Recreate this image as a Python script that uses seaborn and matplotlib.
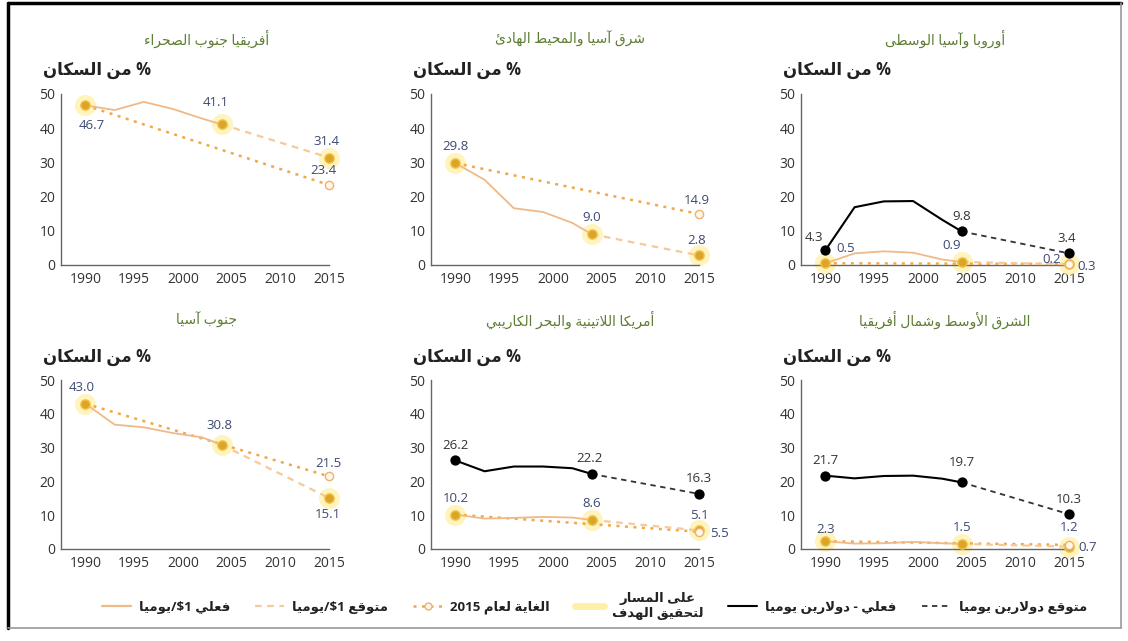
import re
import matplotlib
matplotlib.use('Agg')
import matplotlib.pyplot as plt
from matplotlib.lines import Line2D
import seaborn as sns

# ---------------------------------------------------------------
# data (percent of population)
# ---------------------------------------------------------------
years_actual = [1990, 1993, 1996, 1999, 2002, 2004]
year_goal = 2015

regions = ['أفريقيا جنوب الصحراء', 'شرق آسيا والمحيط الهادئ', 'أوروبا وآسيا الوسطى',
           'جنوب آسيا', 'أمريكا اللاتينية والبحر الكاريبي', 'الشرق الأوسط وشمال أفريقيا']

# $1 a day - actual
ssa_usd1 = [46.7, 45.3, 47.7, 45.6, 42.8, 41.1]
eap_usd1 = [29.8, 24.9, 16.6, 15.5, 12.3, 9.0]
eca_usd1 = [0.5, 3.4, 4.0, 3.6, 1.6, 0.9]
sas_usd1 = [43.0, 36.8, 36.0, 34.3, 33.0, 30.8]
lac_usd1 = [10.2, 9.0, 9.2, 9.5, 9.3, 8.6]
mena_usd1 = [2.3, 1.6, 1.7, 2.1, 1.7, 1.5]

# $2 a day - actual (only shown for three regions)
eca_usd2 = [4.3, 16.9, 18.6, 18.7, 13.2, 9.8]
lac_usd2 = [26.2, 23.0, 24.4, 24.4, 23.9, 22.2]
mena_usd2 = [21.7, 20.9, 21.6, 21.7, 20.8, 19.7]

# 2015 values
proj_usd1_2015 = [31.4, 2.8, 0.2, 15.1, 5.5, 0.7]
target_usd1_2015 = [23.4, 14.9, 0.3, 21.5, 5.1, 1.2]
proj_usd2_2015 = [None, None, 3.4, None, 16.3, 10.3]

x_ticks = [1990, 1995, 2000, 2005, 2010, 2015]
y_ticks = [0, 10, 20, 30, 40, 50]
y_label = '% من السكان'

legend_labels = ['فعلي $1/يوميا', 'متوقع $1/يوميا', 'الغاية لعام 2015',
                 'على المسار\nلتحقيق الهدف', 'فعلي - دولارين يوميا', 'متوقع دولارين يوميا']

usd1_series = [ssa_usd1, eap_usd1, eca_usd1, sas_usd1, lac_usd1, mena_usd1]
usd2_series = [None, None, eca_usd2, None, lac_usd2, mena_usd2]

# label offsets in pixels (dx, dy up) : a1_0 = 1990, a1_1 = 2004, p1/t1/p2 = 2015
label_offsets = [
    {'a1_0': (6, -20), 'a1_1': (-6, 22), 'p1': (-3, 16), 't1': (-6, 14)},
    {'a1_0': (0, 17), 'a1_1': (0, 17), 'p1': (-2, 15), 't1': (-2, 14)},
    {'a2_0': (-11, 13), 'a1_0': (20, 15), 'a2_1': (0, 15), 'a1_1': (-10, 16),
     'p2': (-2, 15), 'p1': (-17, 5), 't1': (18, -3)},
    {'a1_0': (-4, 16), 'a1_1': (-2, 19), 't1': (-1, 13), 'p1': (-1, -17)},
    {'a2_0': (0, 15), 'a2_1': (-2, 15), 'p2': (0, 15), 'a1_0': (0, 16), 'a1_1': (0, 16),
     't1': (0, 16), 'p1': (20, -3)},
    {'a2_0': (0, 15), 'a2_1': (0, 20), 'p2': (0, 15), 'a1_0': (0, 12), 'a1_1': (0, 16),
     't1': (0, 17), 'p1': (19, -1)},
]

# ---------------------------------------------------------------
# minimal arabic shaping (matplotlib has no bidi / joining)
# ---------------------------------------------------------------
_codes = list(range(0x621, 0x63B)) + list(range(0x641, 0x64B))
_nforms = [1, 2, 2, 2, 2, 4, 2, 4, 2, 4, 4, 4, 4, 4, 2, 2, 2, 2, 4, 4, 4, 4, 4, 4,
           4, 4, 4, 4, 4, 4, 4, 4, 4, 2, 2, 4]
FORMS = {}
_base = 0xFE80
for _c, _n in zip(_codes, _nforms):
    FORMS[chr(_c)] = (_base, _n)
    _base += _n
LAM_ALEF = {'\u0622': 0xFEF5, '\u0623': 0xFEF7, '\u0625': 0xFEF9, '\u0627': 0xFEFB}


def shape_line(text):
    units = []
    i = 0
    while i < len(text):
        c = text[i]
        if c == '\u0644' and i + 1 < len(text) and text[i + 1] in LAM_ALEF:
            units.append((True, LAM_ALEF[text[i + 1]], 2))
            i += 2
            continue
        if c in FORMS:
            units.append((True,) + FORMS[c])
        else:
            units.append((False, c, 0))
        i += 1
    out = []
    for k, (is_ar, b, n) in enumerate(units):
        if not is_ar:
            out.append(b)
            continue
        prev_j = k > 0 and units[k - 1][0] and units[k - 1][2] == 4 and n > 1
        next_j = n == 4 and k + 1 < len(units) and units[k + 1][0] and units[k + 1][2] > 1
        if n == 4:
            idx = 3 if (prev_j and next_j) else 1 if prev_j else 2 if next_j else 0
        elif n == 2:
            idx = 1 if prev_j else 0
        else:
            idx = 0
        out.append(chr(b + idx))
    s = ''.join(out)
    tokens = re.findall(r'[0-9A-Za-z$.]+|.', s)
    return ''.join(tokens[::-1])


def ar(text):
    return '\n'.join(shape_line(t) for t in text.split('\n'))


# ---------------------------------------------------------------
# style
# ---------------------------------------------------------------
sns.set_theme(style='white')
plt.rcParams['font.family'] = ['Open Sans', 'DejaVu Sans']

c_actual1 = '#f0b987'
c_proj1 = '#f5c99a'
c_target = '#f0a84a'
c_marker = '#dba628'
c_halo = '#fff0a8'
c_lab1 = '#3d4a70'
c_lab2 = '#333333'
c_title = '#5d7d32'
c_axis = '#666666'

W, H = 1128, 641
fig = plt.figure(figsize=(W / 100, H / 100), dpi=100)

col_left = [61, 431, 801]
col_title = [207, 570, 945]
row_zero = [265, 549]
row_fifty = [94, 380]
row_title = [40, 321]
row_ylabel = [70, 357]
ax_w = 268


def gold_point(ax, x, y):
    sns.scatterplot(x=[x], y=[y], ax=ax, s=230, color=c_halo, alpha=0.75,
                    linewidth=0, zorder=2, clip_on=False)
    sns.scatterplot(x=[x], y=[y], ax=ax, s=45, color=c_marker, edgecolor='#f2c24a',
                    linewidth=1, zorder=5, clip_on=False)


for p in range(6):
    r, c = divmod(p, 3)
    left = col_left[c] / W
    bottom = 1 - row_zero[r] / H
    height = (row_zero[r] - row_fifty[r]) / H
    ax = fig.add_axes([left, bottom, ax_w / W, height])
    offs = label_offsets[p]

    usd1 = usd1_series[p]
    usd2 = usd2_series[p]
    last = years_actual[-1]

    # target line and projected lines
    sns.lineplot(x=[years_actual[0], year_goal], y=[usd1[0], target_usd1_2015[p]], ax=ax,
                 color=c_target, linewidth=1.8, linestyle=(0, (1.2, 2.2)), zorder=3)
    sns.lineplot(x=[last, year_goal], y=[usd1[-1], proj_usd1_2015[p]], ax=ax,
                 color=c_proj1, linewidth=1.6, linestyle=(0, (3, 2.5)), zorder=3)
    sns.lineplot(x=years_actual, y=usd1, ax=ax, color=c_actual1, linewidth=1.3, zorder=3)

    if usd2 is not None:
        sns.lineplot(x=years_actual, y=usd2, ax=ax, color='black', linewidth=1.5, zorder=4)
        sns.lineplot(x=[last, year_goal], y=[usd2[-1], proj_usd2_2015[p]], ax=ax,
                     color='#333333', linewidth=1.3, linestyle=(0, (3, 2.5)), zorder=4)
        sns.scatterplot(x=[years_actual[0], last, year_goal],
                        y=[usd2[0], usd2[-1], proj_usd2_2015[p]], ax=ax,
                        s=55, color='black', linewidth=0, zorder=6, clip_on=False)

    gold_point(ax, years_actual[0], usd1[0])
    gold_point(ax, last, usd1[-1])
    gold_point(ax, year_goal, proj_usd1_2015[p])
    sns.scatterplot(x=[year_goal], y=[target_usd1_2015[p]], ax=ax, s=35, color='#fff8e8',
                    edgecolor='#eeb070', linewidth=1, zorder=6, clip_on=False)

    for line in ax.lines:
        line.set_clip_on(False)

    # value labels
    points = {'a1_0': (years_actual[0], usd1[0], c_lab1),
              'a1_1': (last, usd1[-1], c_lab1),
              'p1': (year_goal, proj_usd1_2015[p], c_lab1),
              't1': (year_goal, target_usd1_2015[p], c_lab1)}
    if usd2 is not None:
        points['a2_0'] = (years_actual[0], usd2[0], c_lab2)
        points['a2_1'] = (last, usd2[-1], c_lab2)
        points['p2'] = (year_goal, proj_usd2_2015[p], c_lab2)
    for key, (dx, dy) in offs.items():
        x, y, col = points[key]
        ax.annotate(f'{y:.1f}', (x, y), xytext=(dx, dy), textcoords='offset pixels',
                    ha='center', va='center', fontsize=9.5, color=col, zorder=8)

    ax.set_xlim(1987.5, 2015)
    ax.set_ylim(0, 50)
    ax.set_xticks(x_ticks)
    ax.set_yticks(y_ticks)
    ax.set_xlabel('')
    ax.set_ylabel('')
    sns.despine(ax=ax)
    for s in ['left', 'bottom']:
        ax.spines[s].set_color(c_axis)
        ax.spines[s].set_linewidth(1)
    ax.tick_params(direction='in', length=4, width=1, color=c_axis, labelsize=10,
                   labelcolor='#333333')
    ax.tick_params(axis='x', pad=5)
    ax.tick_params(axis='y', pad=4)
    ax.patch.set_alpha(0)

    fig.text(col_title[c] / W, 1 - row_title[r] / H, ar(regions[p]), ha='center',
             va='center', fontsize=10, color=c_title)
    fig.text((col_left[c] + 90) / W, 1 - row_ylabel[r] / H, ar(y_label), ha='right',
             va='center', fontsize=12, fontweight='bold', color='#222222')

# legend
handles = [
    Line2D([], [], color=c_actual1, linewidth=1.6),
    Line2D([], [], color=c_proj1, linewidth=1.6, linestyle=(0, (3, 2.5))),
    Line2D([], [], color=c_target, linewidth=1.8, linestyle=(0, (1.2, 2.2)), marker='o',
           markersize=5, markerfacecolor='#fff8e8', markeredgecolor='#eeb070', markevery=[1]),
    Line2D([], [], color=c_halo, linewidth=5),
    Line2D([], [], color='black', linewidth=1.5),
    Line2D([], [], color='#333333', linewidth=1.3, linestyle=(0, (3, 2.5))),
]
leg = fig.legend(handles, [ar(t) for t in legend_labels], loc='center',
                 bbox_to_anchor=(0.527, 1 - 606 / H), ncol=6, frameon=False,
                 prop={'size': 9.5, 'weight': 'bold'},
                 handlelength=2.2, columnspacing=1.9, handletextpad=0.6)
for t in leg.get_texts():
    t.set_multialignment('center')
    t.set_color('#222222')

# frame around the whole chart
fig.add_artist(Line2D([8 / W, 8 / W], [1 - 628 / H, 1 - 3 / H], transform=fig.transFigure,
                      color='black', linewidth=2.5))
fig.add_artist(Line2D([8 / W, 1121 / W], [1 - 3 / H, 1 - 3 / H], transform=fig.transFigure,
                      color='black', linewidth=2.5))
fig.add_artist(Line2D([1121 / W, 1121 / W], [1 - 628 / H, 1 - 3 / H],
                      transform=fig.transFigure, color='#999999', linewidth=1.2))
fig.add_artist(Line2D([8 / W, 1121 / W], [1 - 628 / H, 1 - 628 / H],
                      transform=fig.transFigure, color='#999999', linewidth=1.2))

fig.savefig('out.png', dpi=100)
